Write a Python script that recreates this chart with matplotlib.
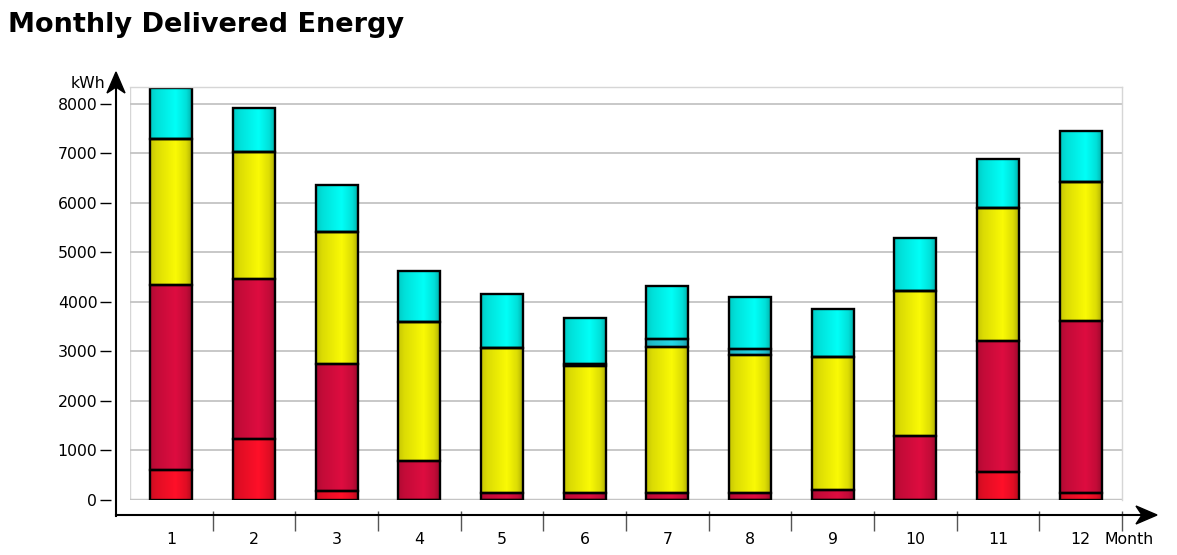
import numpy as np
import matplotlib
matplotlib.use("Agg")
import matplotlib.pyplot as plt
from matplotlib.patches import Polygon

# ---- data (kWh per segment) ----
months = [1, 2, 3, 4, 5, 6, 7, 8, 9, 10, 11, 12]
seg_red     = [606, 1232, 182, 0, 0, 0, 0, 0, 0, 0, 566, 141]
seg_crimson = [3737, 3233, 2565, 788, 148, 135, 141, 141, 202, 1293, 2646, 3475]
seg_yellow  = [2950, 2565, 2667, 2808, 2929, 2565, 2943, 2795, 2680, 2929, 2687, 2808]
seg_teal    = [0, 0, 0, 0, 0, 54, 169, 121, 0, 0, 0, 0]
seg_cyan    = [1030, 889, 950, 1030, 1085, 929, 1077, 1051, 983, 1071, 990, 1031]
yticks = [0, 1000, 2000, 3000, 4000, 5000, 6000, 7000, 8000]

series = [
    (seg_red,     (1.00, 0.06, 0.16)),
    (seg_crimson, (0.87, 0.05, 0.25)),
    (seg_yellow,  (0.98, 0.98, 0.02)),
    (seg_teal,    (0.14, 0.84, 0.90)),
    (seg_cyan,    (0.00, 1.00, 0.97)),
]

W, H, DPI = 1177, 555, 100
fig = plt.figure(figsize=(W / DPI, H / DPI), dpi=DPI)
ax = fig.add_axes([130 / W, 55 / H, 992 / W, 413 / H])

x = np.array(months, dtype=float)
bw = 0.51
bottom = np.zeros(len(months))

t = np.linspace(0, 1, 64)
prof = np.interp(t, [0, 0.15, 0.6, 0.85, 1], [0.80, 0.88, 1.0, 0.88, 0.68])

for vals, col in series:
    vals = np.array(vals, dtype=float)
    bars = ax.bar(x, vals, bw, bottom=bottom, color=col, edgecolor="none", zorder=2)
    grad = np.clip(np.array(col)[None, None, :] * prof[None, :, None], 0, 1)
    for p in bars.patches:
        if p.get_height() <= 0:
            continue
        x0, y0 = p.get_x(), p.get_y()
        im = ax.imshow(grad, extent=[x0, x0 + p.get_width(), y0, y0 + p.get_height()],
                       aspect="auto", zorder=2.1, interpolation="bilinear")
        im.set_clip_path(p)
    ax.bar(x, vals, bw, bottom=bottom, facecolor="none", edgecolor="black",
           linewidth=1.7, zorder=2.2)
    bottom += vals

ax.set_xlim(0.5, 12.5)
ax.set_ylim(0, 8343)

# frame / grid
for s in ["top", "right"]:
    ax.spines[s].set_color("#D6D6D6")
    ax.spines[s].set_linewidth(1.0)
ax.spines["left"].set_visible(False)
ax.spines["bottom"].set_visible(False)
ax.spines["left"].set_position(("outward", 14))
ax.spines["bottom"].set_position(("outward", 15))
ax.axvline(0.5, color="#D6D6D6", lw=1.0, zorder=0)
ax.set_yticks(yticks)
ax.yaxis.grid(True, color="#C4C4C4", lw=1.3, zorder=0)
ax.set_axisbelow(True)
ax.axhline(0, color="#C4C4C4", lw=2.5, zorder=1)

ax.tick_params(axis="y", length=8, width=1, color="black", direction="out",
               labelsize=11.3, pad=1.5)
ax.set_xticks(x)
ax.set_xticklabels([str(m) for m in months])
ax.tick_params(axis="x", which="major", length=0, labelsize=11.3, pad=8)
ax.set_xticks(np.arange(1.5, 13.0, 1.0), minor=True)
ax.tick_params(axis="x", which="minor", length=14, width=1, color="#555555",
               direction="inout")

# axis lines with arrows (figure fraction from pixel positions)
fig.add_artist(plt.Line2D([116 / W, 116 / W], [39 / H, 470 / H], color="black", lw=1.5))
fig.add_artist(plt.Line2D([116 / W, 1145 / W], [40 / H, 40 / H], color="black", lw=1.5))
fig.add_artist(Polygon([[116 / W, 483 / H], [107 / W, 462 / H], [116 / W, 468 / H],
                        [125 / W, 462 / H]], closed=True, color="black",
                       transform=fig.transFigure))
fig.add_artist(Polygon([[1157 / W, 40 / H], [1136 / W, 49 / H], [1142 / W, 40 / H],
                        [1136 / W, 31 / H]], closed=True, color="black",
                       transform=fig.transFigure))

fig.text(8 / W, (H - 32) / H, "Monthly Delivered Energy", fontsize=19.5,
         fontweight="bold", ha="left", va="baseline")
fig.text(105 / W, (H - 88) / H, "kWh", fontsize=11.3, ha="right", va="baseline")
fig.text(1105 / W, (H - 544) / H, "Month", fontsize=11.3, ha="left", va="baseline")

fig.savefig("out.png", dpi=DPI)
